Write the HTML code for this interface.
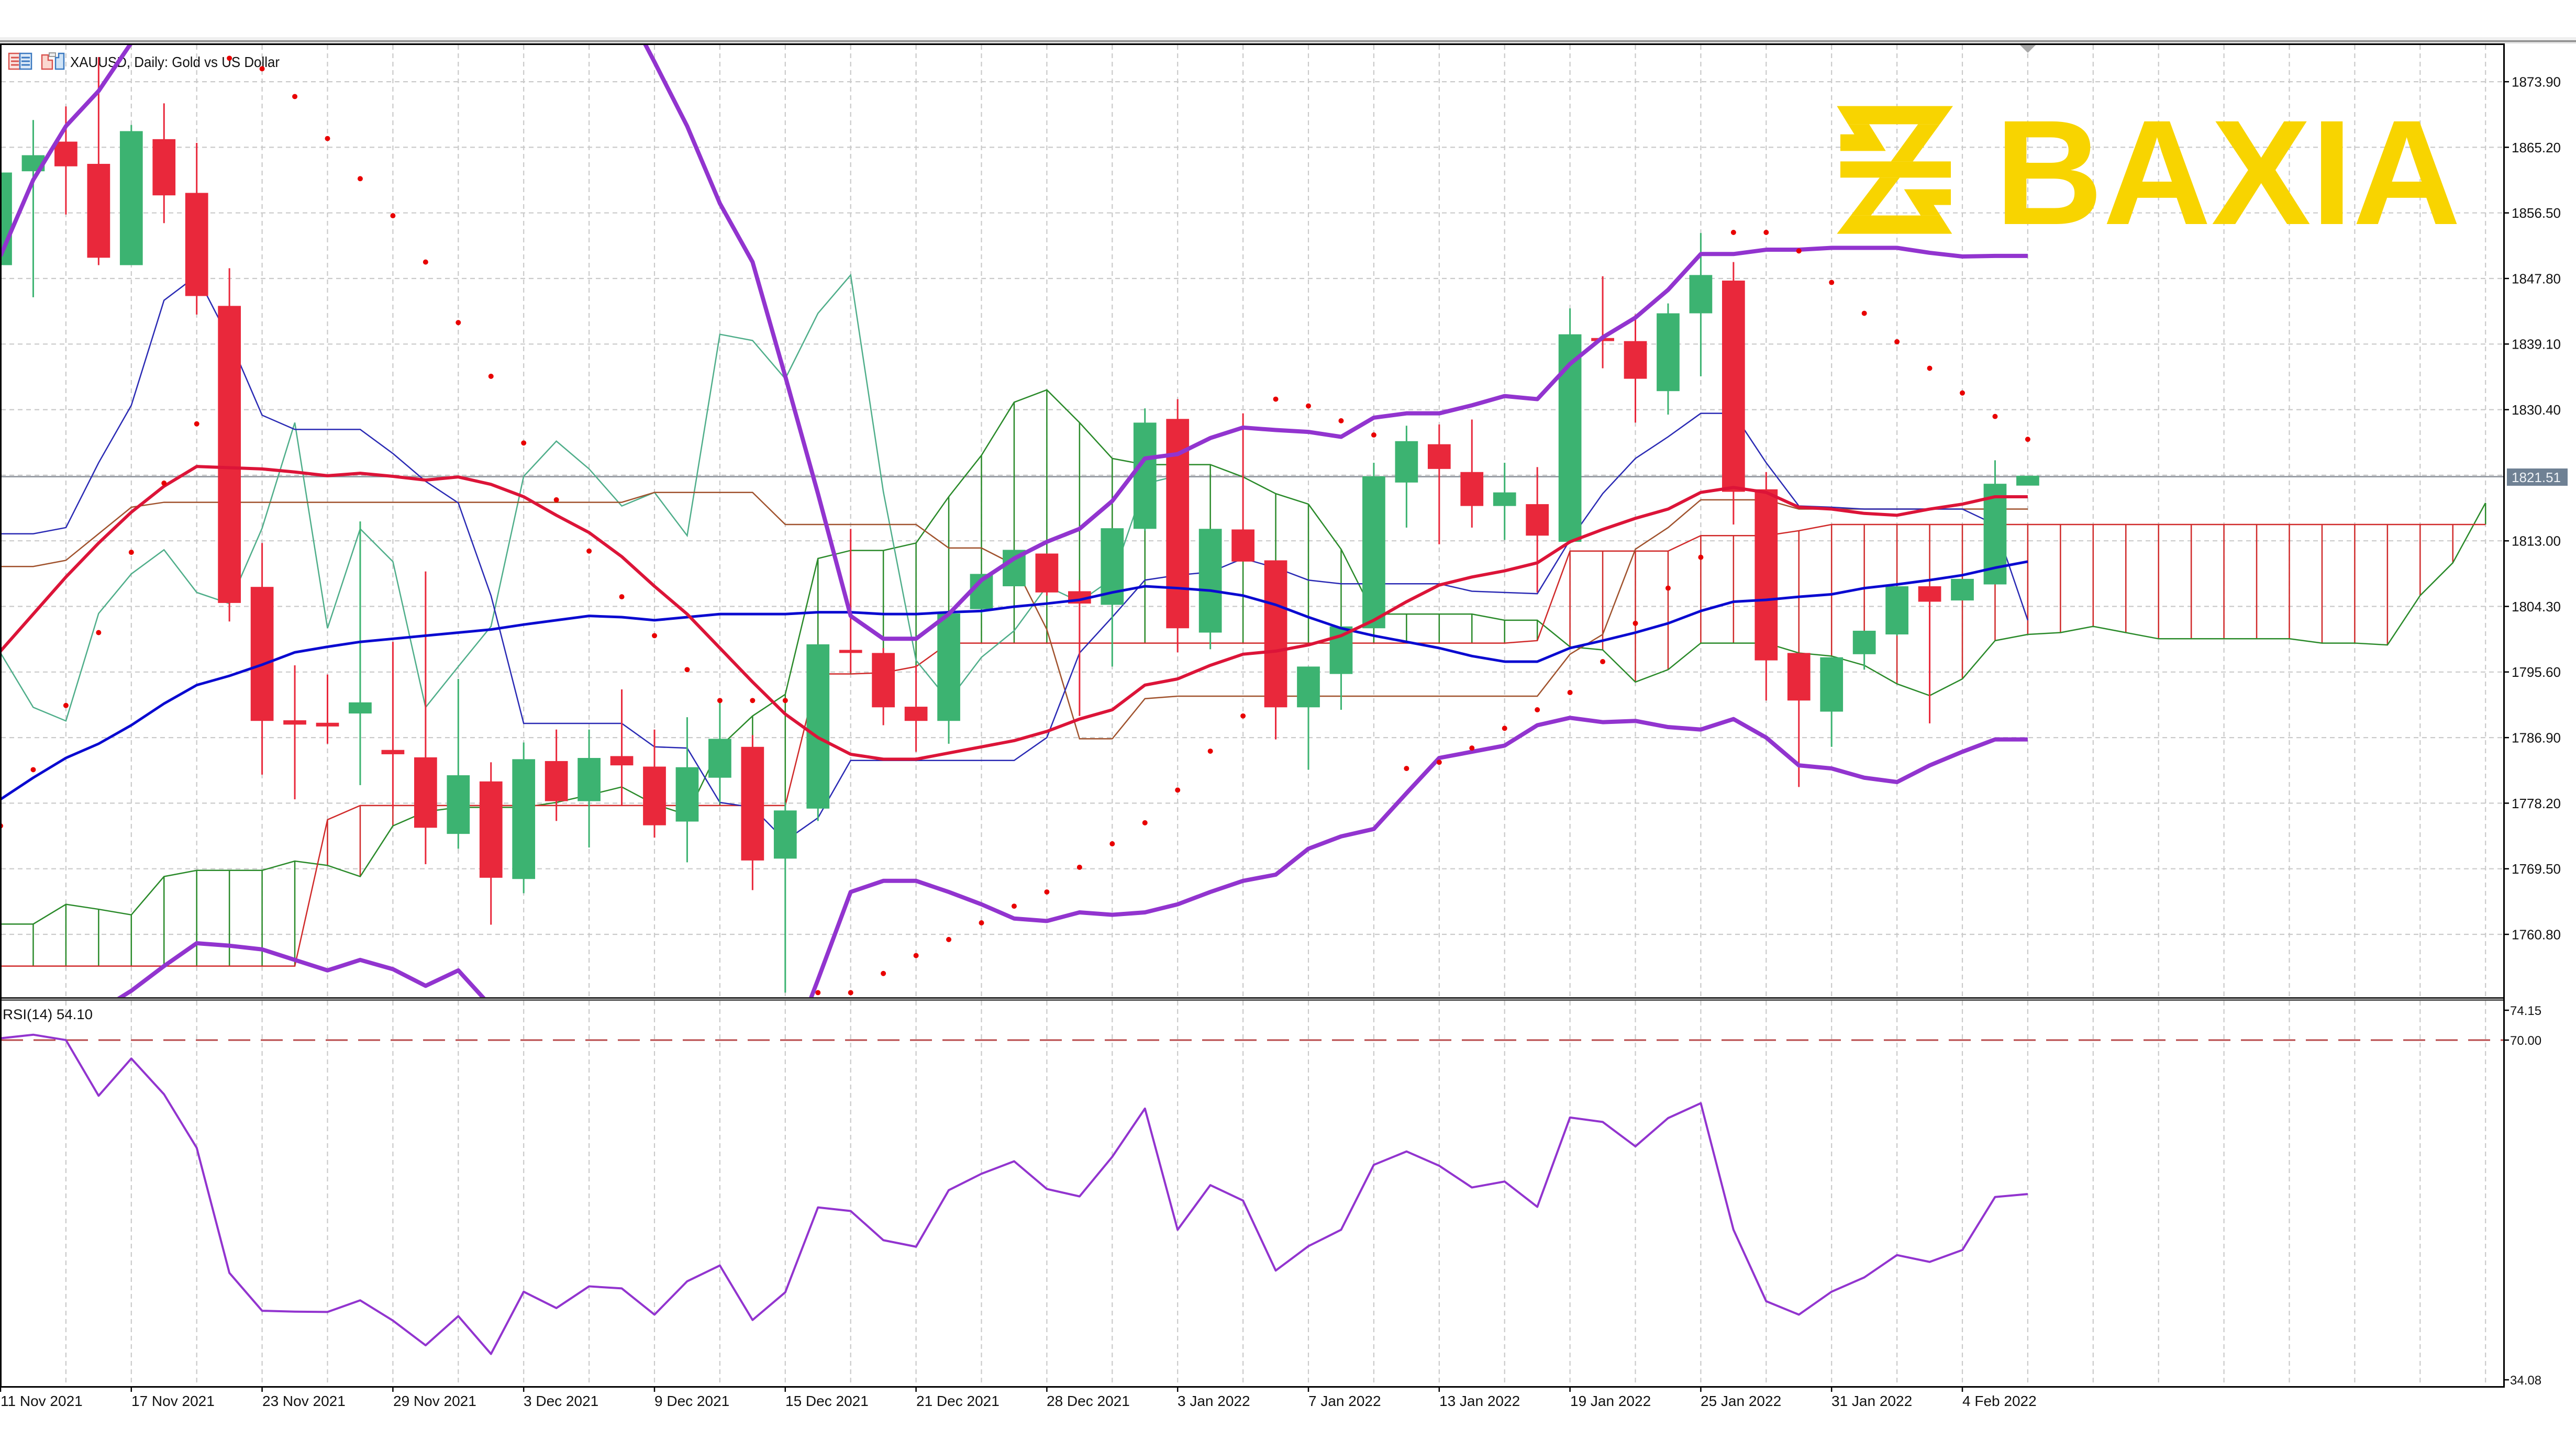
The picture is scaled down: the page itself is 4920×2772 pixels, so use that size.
<!DOCTYPE html>
<html>
<head>
<meta charset="utf-8">
<style>
html,body{margin:0;padding:0;background:#fff;overflow:hidden;}
svg{display:block;}
text{font-family:"Liberation Sans",sans-serif;}
</style>
</head>
<body>
<svg xmlns="http://www.w3.org/2000/svg" width="4920" height="2772" viewBox="0 0 4920 2772">
<defs>
<clipPath id="cp"><rect x="2" y="86" width="4780" height="1819"/></clipPath>
<clipPath id="cr"><rect x="2" y="1912" width="4780" height="736"/></clipPath>
</defs>
<rect x="0" y="0" width="4920" height="2772" fill="#ffffff"/>
<!-- top frame -->
<rect x="0" y="71" width="4920" height="6" fill="#efefef"/>
<rect x="0" y="77" width="4920" height="3" fill="#8a8a8a"/>
<rect x="0" y="80" width="4920" height="3" fill="#dcdcdc"/>
<rect x="0" y="83" width="4784" height="3" fill="#000"/>

<!-- MAIN PANE -->
<g clip-path="url(#cp)">
  <!-- grid -->
  <path fill="none" stroke="#cacaca" stroke-width="2.2" stroke-dasharray="9 7" d="M125.9,86V1905M250.8,86V1905M375.7,86V1905M500.6,86V1905M625.5,86V1905M750.4,86V1905M875.3,86V1905M1000.2,86V1905M1125.1,86V1905M1250,86V1905M1374.9,86V1905M1499.8,86V1905M1624.7,86V1905M1749.6,86V1905M1874.5,86V1905M1999.4,86V1905M2124.3,86V1905M2249.2,86V1905M2374.1,86V1905M2499,86V1905M2623.9,86V1905M2748.8,86V1905M2873.7,86V1905M2998.6,86V1905M3123.5,86V1905M3248.4,86V1905M3373.3,86V1905M3498.2,86V1905M3623.1,86V1905M3748,86V1905M3872.9,86V1905M3997.8,86V1905M4122.7,86V1905M4247.6,86V1905M4372.5,86V1905M4497.4,86V1905M4622.3,86V1905M4747.2,86V1905"/>
  <path fill="none" stroke="#cacaca" stroke-width="2.2" stroke-dasharray="9 7" d="M2,156.1H4782M2,281.4H4782M2,406.7H4782M2,532H4782M2,657.3H4782M2,782.6H4782M2,907.9H4782M2,1033.2H4782M2,1158.5H4782M2,1283.8H4782M2,1409.1H4782M2,1534.4H4782M2,1659.7H4782M2,1785H4782"/>

  <!-- logo -->
  <g transform="translate(3480,180) scale(0.33333)" fill="#f8d400">
    <polygon points="85,68 750,68 675,172 149,172"/>
    <polygon points="550,172 675,172 520,385 395,385"/>
    <polygon points="149,172 270,172 365,325 105,325 105,230 185,230"/>
    <polygon points="105,385 738,385 738,478 105,478"/>
    <polygon points="330,478 445,478 280,695 165,695"/>
    <polygon points="165,695 678,695 745,800 85,800"/>
    <polygon points="470,545 738,545 738,635 640,635 678,695 565,695"/>
  </g>
  <text x="3810" y="428" font-size="285" font-weight="bold" fill="#f8d400" textLength="890" lengthAdjust="spacingAndGlyphs">BAXIA</text>

  <!-- current price line -->
  <line x1="2" y1="910.6" x2="4782" y2="910.6" stroke="#8a9099" stroke-width="2.5"/>

  <!-- header -->
  <g>
    <rect x="17" y="102" width="21" height="30" fill="#fbe4e0" stroke="#d9534f" stroke-width="2.5"/>
    <rect x="38" y="102" width="22" height="30" fill="#dceaf8" stroke="#3a78c0" stroke-width="2.5"/>
    <path d="M21,110H36M21,117H36M21,124H36" stroke="#d9534f" stroke-width="3"/>
    <path d="M41,110H57M41,117H57M41,124H57" stroke="#3a78c0" stroke-width="3"/>
    <path d="M80,105H92V115H100V132H80Z" fill="#fbd8d0" stroke="#d9534f" stroke-width="2.5"/>
    <rect x="94" y="101" width="12" height="7" fill="#eee" stroke="#999" stroke-width="2"/>
    <path d="M106,110H112V102H122V132H106Z" fill="#cfe3f7" stroke="#3a78c0" stroke-width="2.5"/>
    <text x="134" y="128" font-size="28" fill="#111" textLength="400" lengthAdjust="spacingAndGlyphs">XAUUSD, Daily:  Gold vs US Dollar</text>
  </g>

  <!-- data group: x = bar index, y = zoom units -->
  <g transform="matrix(62.45,0,0,1.1798,1,70)">
    <!-- cloud hatches -->
    <path vector-effect="non-scaling-stroke" fill="none" stroke="#2a8a2a" stroke-width="2.5" d="M0,1437V1505M1,1437V1505M2,1405V1505M3,1413V1505M4,1422V1505M5,1360V1505M6,1350V1505M7,1350V1505M8,1350V1505M9,1335V1505M17,1240V1245M18,1228V1245M19,1215V1245M22,1150V1245M23,1100V1245M24,1065V1245M25,845V1032M26,832V1032M27,832V1030M28,820V1020M29,745V982M30,678V982M31,592V982M32,572V982M33,625V982M34,683V982M35,693V982M36,693V982M37,693V982M38,713V982M39,740V982M40,757V982M41,830V982M42,935V982M43,935V982M44,935V982M45,935V982M46,945V982M47,945V978M76,755V790"/>
    <path vector-effect="non-scaling-stroke" fill="none" stroke="#d02a2a" stroke-width="2.5" d="M10,1268V1342M11,1245V1360M12,1245V1278M13,1245V1255M14,1245V1248M15,1245V1248M16,1245V1248M21,1245V1260M48,833V988M49,833V993M50,833V1045M51,833V1025M52,808V982M53,808V982M54,808V982M55,800V998M56,790V1003M57,790V1018M58,790V1048M59,790V1067M60,790V1040M61,790V978M62,790V968M63,790V965M64,790V955M65,790V965M66,790V975M67,790V975M68,790V975M69,790V975M70,790V975M71,790V982M72,790V982M73,790V985M74,790V905M75,790V852"/>
    <!-- span A -->
    <polyline vector-effect="non-scaling-stroke" fill="none" stroke="#2a8a2a" stroke-width="2.5" points="0,1437 1,1437 2,1405 3,1413 4,1422 5,1360 6,1350 7,1350 8,1350 9,1335 10,1342 11,1360 12,1278 13,1255 14,1248 15,1248 16,1248 17,1240 18,1228 19,1215 20,1243 21,1260 22,1150 23,1100 24,1065 25,845 26,832 27,832 28,820 29,745 30,678 31,592 32,572 33,625 34,683 35,693 36,693 37,693 38,713 39,740 40,757 41,830 42,935 43,935 44,935 45,935 46,945 47,945 48,988 49,993 50,1045 51,1025 52,982 53,982 54,982 55,998 56,1003 57,1018 58,1048 59,1067 60,1040 61,978 62,968 63,965 64,955 65,965 66,975 67,975 68,975 69,975 70,975 71,982 72,982 73,985 74,905 75,852 76,755"/>
    <!-- span B -->
    <polyline vector-effect="non-scaling-stroke" fill="none" stroke="#d02a2a" stroke-width="2.5" points="0,1505 9,1505 10,1268 11,1245 24,1245 25,1032 26,1032 27,1030 28,1020 29,982 46,982 47,978 48,833 51,833 52,808 54,808 55,800 56,790 76,790"/>
    <!-- chikou -->
    <polyline vector-effect="non-scaling-stroke" fill="none" stroke="#4fae8a" stroke-width="2.5" points="0,998 1,1086 2,1108 3,934 4,870 5,831 6,900 7,918 8,796 9,625 10,958 11,797 12,850 13,1086 14,1020 15,955 16,712 17,655 18,700 19,760 20,738 21,808 22,482 23,492 24,554 25,448 26,386 27,737 28,1010 29,1075 30,1005 31,962 32,890 33,915 34,878 35,724 36,711"/>
    <!-- kijun -->
    <polyline vector-effect="non-scaling-stroke" fill="none" stroke="#a0522d" stroke-width="2.5" points="0,858 1,858 2,848 3,805 4,762 5,754 19,754 20,738 23,738 24,790 28,790 29,828 30,828 31,855 32,960 33,1137 34,1137 35,1072 36,1068 47,1068 48,1000 49,968 50,830 51,795 52,750 54,750 55,765 62,765"/>
    <!-- tenkan -->
    <polyline vector-effect="non-scaling-stroke" fill="none" stroke="#2a2ab4" stroke-width="2.5" points="0,805 1,805 2,795 3,690 4,597 5,427 6,387 7,490 8,613 9,636 10,636 11,636 12,675 13,720 14,755 15,905 16,1112 17,1112 18,1112 19,1112 20,1150 21,1152 22,1240 23,1248 24,1302 25,1265 26,1172 27,1172 28,1172 29,1172 30,1172 31,1172 32,1135 33,998 34,940 35,880 36,872 37,867 38,845 39,860 40,880 41,886 42,886 43,886 44,886 45,898 46,900 47,902 48,815 49,740 50,683 51,648 52,610 53,610 54,690 55,760 56,762 57,765 58,765 59,765 60,765 61,790 62,945"/>

    <!-- green candles -->
    <g fill="#3cb371">
      <rect x="-0.35" y="220" width="0.7" height="150"/>
      <rect x="0.976" y="135" width="0.048" height="287"/><rect x="0.65" y="192" width="0.7" height="26"/>
      <rect x="3.976" y="143" width="0.048" height="227"/><rect x="3.65" y="153" width="0.7" height="217"/>
      <rect x="10.976" y="785" width="0.048" height="427"/><rect x="10.65" y="1078" width="0.7" height="18"/>
      <rect x="13.976" y="1040" width="0.048" height="275"/><rect x="13.65" y="1196" width="0.7" height="95"/>
      <rect x="15.976" y="1143" width="0.048" height="244"/><rect x="15.65" y="1170" width="0.7" height="194"/>
      <rect x="17.976" y="1122" width="0.048" height="191"/><rect x="17.65" y="1168" width="0.7" height="70"/>
      <rect x="20.976" y="1102" width="0.048" height="235"/><rect x="20.65" y="1183" width="0.7" height="88"/>
      <rect x="21.976" y="1075" width="0.048" height="165"/><rect x="21.65" y="1137" width="0.7" height="63"/>
      <rect x="23.976" y="1240" width="0.048" height="308"/><rect x="23.65" y="1253" width="0.7" height="78"/>
      <rect x="24.976" y="984" width="0.048" height="286"/><rect x="24.65" y="984" width="0.7" height="266"/>
      <rect x="28.976" y="934" width="0.048" height="211"/><rect x="28.65" y="934" width="0.7" height="174"/>
      <rect x="29.976" y="870" width="0.048" height="65"/><rect x="29.65" y="870" width="0.7" height="57"/>
      <rect x="30.65" y="831" width="0.7" height="59"/>
      <rect x="33.976" y="796" width="0.048" height="224"/><rect x="33.65" y="796" width="0.7" height="124"/>
      <rect x="34.976" y="602" width="0.048" height="198"/><rect x="34.65" y="625" width="0.7" height="172"/>
      <rect x="36.976" y="797" width="0.048" height="195"/><rect x="36.65" y="797" width="0.7" height="168"/>
      <rect x="39.976" y="1020" width="0.048" height="167"/><rect x="39.65" y="1020" width="0.7" height="66"/>
      <rect x="40.976" y="955" width="0.048" height="135"/><rect x="40.65" y="955" width="0.7" height="77"/>
      <rect x="41.976" y="690" width="0.048" height="268"/><rect x="41.65" y="712" width="0.7" height="246"/>
      <rect x="42.976" y="630" width="0.048" height="165"/><rect x="42.65" y="655" width="0.7" height="67"/>
      <rect x="45.976" y="690" width="0.048" height="125"/><rect x="45.65" y="738" width="0.7" height="22"/>
      <rect x="47.976" y="440" width="0.048" height="378"/><rect x="47.65" y="482" width="0.7" height="336"/>
      <rect x="50.976" y="432" width="0.048" height="180"/><rect x="50.65" y="448" width="0.7" height="126"/>
      <rect x="51.976" y="318" width="0.048" height="232"/><rect x="51.65" y="386" width="0.7" height="62"/>
      <rect x="55.976" y="1005" width="0.048" height="145"/><rect x="55.65" y="1005" width="0.7" height="88"/>
      <rect x="56.976" y="962" width="0.048" height="63"/><rect x="56.65" y="962" width="0.7" height="38"/>
      <rect x="57.976" y="890" width="0.048" height="80"/><rect x="57.65" y="890" width="0.7" height="78"/>
      <rect x="59.65" y="878" width="0.7" height="35"/>
      <rect x="60.976" y="686" width="0.048" height="201"/><rect x="60.65" y="724" width="0.7" height="163"/>
      <rect x="61.65" y="711" width="0.7" height="16"/>
    </g>
    <!-- red candles -->
    <g fill="#e9283b">
      <rect x="1.976" y="113" width="0.048" height="175"/><rect x="1.65" y="170" width="0.7" height="40"/>
      <rect x="2.976" y="33" width="0.048" height="337"/><rect x="2.65" y="206" width="0.7" height="152"/>
      <rect x="4.976" y="108" width="0.048" height="194"/><rect x="4.65" y="166" width="0.7" height="91"/>
      <rect x="5.976" y="172" width="0.048" height="278"/><rect x="5.65" y="253" width="0.7" height="167"/>
      <rect x="6.976" y="375" width="0.048" height="572"/><rect x="6.65" y="436" width="0.7" height="481"/>
      <rect x="7.976" y="820" width="0.048" height="375"/><rect x="7.65" y="891" width="0.7" height="217"/>
      <rect x="8.976" y="1018" width="0.048" height="217"/><rect x="8.65" y="1107" width="0.7" height="7"/>
      <rect x="9.976" y="1033" width="0.048" height="112"/><rect x="9.65" y="1111" width="0.7" height="6"/>
      <rect x="11.976" y="980" width="0.048" height="270"/><rect x="11.65" y="1155" width="0.7" height="7"/>
      <rect x="12.976" y="866" width="0.048" height="474"/><rect x="12.65" y="1167" width="0.7" height="114"/>
      <rect x="14.976" y="1175" width="0.048" height="263"/><rect x="14.65" y="1206" width="0.7" height="156"/>
      <rect x="16.976" y="1122" width="0.048" height="148"/><rect x="16.65" y="1173" width="0.7" height="65"/>
      <rect x="18.976" y="1057" width="0.048" height="188"/><rect x="18.65" y="1165" width="0.7" height="15"/>
      <rect x="19.976" y="1122" width="0.048" height="175"/><rect x="19.65" y="1182" width="0.7" height="95"/>
      <rect x="22.976" y="1131" width="0.048" height="251"/><rect x="22.65" y="1150" width="0.7" height="184"/>
      <rect x="25.976" y="797" width="0.048" height="233"/><rect x="25.65" y="993" width="0.7" height="5"/>
      <rect x="26.976" y="990" width="0.048" height="125"/><rect x="26.65" y="998" width="0.7" height="88"/>
      <rect x="27.976" y="1018" width="0.048" height="140"/><rect x="27.65" y="1085" width="0.7" height="23"/>
      <rect x="31.976" y="837" width="0.048" height="68"/><rect x="31.65" y="837" width="0.7" height="63"/>
      <rect x="32.976" y="880" width="0.048" height="220"/><rect x="32.65" y="898" width="0.7" height="20"/>
      <rect x="35.976" y="587" width="0.048" height="410"/><rect x="35.65" y="619" width="0.7" height="339"/>
      <rect x="37.976" y="610" width="0.048" height="240"/><rect x="37.65" y="798" width="0.7" height="52"/>
      <rect x="38.976" y="848" width="0.048" height="290"/><rect x="38.65" y="848" width="0.7" height="238"/>
      <rect x="43.976" y="628" width="0.048" height="194"/><rect x="43.65" y="660" width="0.7" height="40"/>
      <rect x="44.976" y="620" width="0.048" height="175"/><rect x="44.65" y="705" width="0.7" height="55"/>
      <rect x="46.976" y="697" width="0.048" height="203"/><rect x="46.65" y="757" width="0.7" height="51"/>
      <rect x="48.976" y="388" width="0.048" height="149"/><rect x="48.65" y="488" width="0.7" height="5"/>
      <rect x="49.976" y="450" width="0.048" height="175"/><rect x="49.65" y="493" width="0.7" height="61"/>
      <rect x="52.976" y="365" width="0.048" height="425"/><rect x="52.65" y="395" width="0.7" height="342"/>
      <rect x="53.976" y="705" width="0.048" height="370"/><rect x="53.65" y="733" width="0.7" height="277"/>
      <rect x="54.976" y="998" width="0.048" height="217"/><rect x="54.65" y="998" width="0.7" height="77"/>
      <rect x="58.976" y="890" width="0.048" height="222"/><rect x="58.65" y="890" width="0.7" height="25"/>
    </g>

    <!-- blue MA -->
    <polyline vector-effect="non-scaling-stroke" fill="none" stroke="#0a0ad0" stroke-width="5" stroke-linejoin="round" points="0,1235 1,1200 2,1168 3,1145 4,1115 5,1080 6,1050 7,1035 8,1017 9,997 10,988 11,980 12,975 13,970 14,965 15,960 16,952 17,945 18,938 19,940 20,945 21,940 22,935 23,935 24,935 25,932 26,932 27,935 28,935 29,932 30,930 31,923 32,918 33,912 34,900 35,890 36,893 37,897 38,905 39,920 40,940 41,958 42,970 43,980 44,990 45,1003 46,1012 47,1012 48,990 49,978 50,965 51,950 52,930 53,915 54,912 55,907 56,903 57,893 58,887 59,880 60,872 61,860 62,850"/>
    <!-- red MA -->
    <polyline vector-effect="non-scaling-stroke" fill="none" stroke="#dc1438" stroke-width="6" stroke-linejoin="round" points="0,995 1,935 2,875 3,820 4,770 5,728 6,696 7,698 8,700 9,705 10,711 11,707 12,712 13,718 14,713 15,725 16,745 17,775 18,803 19,842 20,890 21,935 22,990 23,1045 24,1097 25,1135 26,1162 27,1170 28,1170 29,1160 30,1150 31,1140 32,1125 33,1105 34,1090 35,1050 36,1040 37,1018 38,1000 39,995 40,985 41,970 42,945 43,915 44,888 45,875 46,865 47,852 48,818 49,798 50,780 51,765 52,738 53,730 54,738 55,762 56,765 57,772 58,775 59,765 60,757 61,745 62,745"/>
    <!-- Bollinger upper / lower -->
    <polyline vector-effect="non-scaling-stroke" fill="none" stroke="#9234cf" stroke-width="8" stroke-linejoin="round" points="0,355 1,232 2,145 3,88 4,10 5,-70 6,-200 18,-200 19,-60 20,41 21,145 22,270 23,365 24,550 25,740 26,938 27,975 28,975 29,935 30,880 31,845 32,818 33,797 34,752 35,683 36,676 37,650 38,633 39,637 40,640 41,648 42,617 43,610 44,610 45,597 46,582 47,587 48,530 49,487 50,455 51,410 52,352 53,352 54,345 55,345 56,342 57,342 58,342 59,350 60,356 61,355 62,355"/>
    <polyline vector-effect="non-scaling-stroke" fill="none" stroke="#9234cf" stroke-width="8" stroke-linejoin="round" points="0,1700 1,1660 2,1620 3,1578 4,1545 5,1505 6,1468 7,1472 8,1478 9,1495 10,1512 11,1495 12,1510 13,1537 14,1512 15,1570 16,1640 17,1700 23,1750 24,1666 25,1527 26,1385 27,1367 28,1367 29,1385 30,1405 31,1428 32,1432 33,1418 34,1422 35,1418 36,1405 37,1385 38,1367 39,1357 40,1315 41,1295 42,1283 43,1225 44,1168 45,1158 46,1148 47,1115 48,1103 49,1110 50,1108 51,1118 52,1122 53,1105 54,1135 55,1180 56,1185 57,1200 58,1207 59,1180 60,1158 61,1138 62,1138"/>

    <!-- Parabolic SAR -->
    <g fill="#e80000">
      <ellipse cx="0" cy="1278" rx="0.08" ry="4.2"/><ellipse cx="1" cy="1187" rx="0.08" ry="4.2"/><ellipse cx="2" cy="1083" rx="0.08" ry="4.2"/><ellipse cx="3" cy="965" rx="0.08" ry="4.2"/><ellipse cx="4" cy="835" rx="0.08" ry="4.2"/><ellipse cx="5" cy="723" rx="0.08" ry="4.2"/><ellipse cx="6" cy="627" rx="0.08" ry="4.2"/><ellipse cx="7" cy="35" rx="0.08" ry="4.2"/><ellipse cx="8" cy="52" rx="0.08" ry="4.2"/><ellipse cx="9" cy="97" rx="0.08" ry="4.2"/><ellipse cx="10" cy="165" rx="0.08" ry="4.2"/><ellipse cx="11" cy="230" rx="0.08" ry="4.2"/><ellipse cx="12" cy="290" rx="0.08" ry="4.2"/><ellipse cx="13" cy="365" rx="0.08" ry="4.2"/><ellipse cx="14" cy="463" rx="0.08" ry="4.2"/><ellipse cx="15" cy="550" rx="0.08" ry="4.2"/><ellipse cx="16" cy="658" rx="0.08" ry="4.2"/><ellipse cx="17" cy="750" rx="0.08" ry="4.2"/><ellipse cx="18" cy="833" rx="0.08" ry="4.2"/><ellipse cx="19" cy="907" rx="0.08" ry="4.2"/><ellipse cx="20" cy="970" rx="0.08" ry="4.2"/><ellipse cx="21" cy="1025" rx="0.08" ry="4.2"/><ellipse cx="22" cy="1075" rx="0.08" ry="4.2"/><ellipse cx="23" cy="1075" rx="0.08" ry="4.2"/><ellipse cx="24" cy="1075" rx="0.08" ry="4.2"/><ellipse cx="25" cy="1548" rx="0.08" ry="4.2"/><ellipse cx="26" cy="1548" rx="0.08" ry="4.2"/><ellipse cx="27" cy="1517" rx="0.08" ry="4.2"/><ellipse cx="28" cy="1488" rx="0.08" ry="4.2"/><ellipse cx="29" cy="1462" rx="0.08" ry="4.2"/><ellipse cx="30" cy="1435" rx="0.08" ry="4.2"/><ellipse cx="31" cy="1408" rx="0.08" ry="4.2"/><ellipse cx="32" cy="1385" rx="0.08" ry="4.2"/><ellipse cx="33" cy="1345" rx="0.08" ry="4.2"/><ellipse cx="34" cy="1307" rx="0.08" ry="4.2"/><ellipse cx="35" cy="1273" rx="0.08" ry="4.2"/><ellipse cx="36" cy="1220" rx="0.08" ry="4.2"/><ellipse cx="37" cy="1157" rx="0.08" ry="4.2"/><ellipse cx="38" cy="1100" rx="0.08" ry="4.2"/><ellipse cx="39" cy="587" rx="0.08" ry="4.2"/><ellipse cx="40" cy="598" rx="0.08" ry="4.2"/><ellipse cx="41" cy="622" rx="0.08" ry="4.2"/><ellipse cx="42" cy="645" rx="0.08" ry="4.2"/><ellipse cx="43" cy="1185" rx="0.08" ry="4.2"/><ellipse cx="44" cy="1175" rx="0.08" ry="4.2"/><ellipse cx="45" cy="1152" rx="0.08" ry="4.2"/><ellipse cx="46" cy="1120" rx="0.08" ry="4.2"/><ellipse cx="47" cy="1090" rx="0.08" ry="4.2"/><ellipse cx="48" cy="1062" rx="0.08" ry="4.2"/><ellipse cx="49" cy="1012" rx="0.08" ry="4.2"/><ellipse cx="50" cy="950" rx="0.08" ry="4.2"/><ellipse cx="51" cy="893" rx="0.08" ry="4.2"/><ellipse cx="52" cy="843" rx="0.08" ry="4.2"/><ellipse cx="53" cy="317" rx="0.08" ry="4.2"/><ellipse cx="54" cy="317" rx="0.08" ry="4.2"/><ellipse cx="55" cy="347" rx="0.08" ry="4.2"/><ellipse cx="56" cy="398" rx="0.08" ry="4.2"/><ellipse cx="57" cy="448" rx="0.08" ry="4.2"/><ellipse cx="58" cy="494" rx="0.08" ry="4.2"/><ellipse cx="59" cy="537" rx="0.08" ry="4.2"/><ellipse cx="60" cy="577" rx="0.08" ry="4.2"/><ellipse cx="61" cy="615" rx="0.08" ry="4.2"/><ellipse cx="62" cy="652" rx="0.08" ry="4.2"/>
    </g>
  </g>
  <!-- current bar marker -->
  <polygon points="3858,86 3888,86 3873,101" fill="#a8a8a8"/>
</g>

<!-- pane separator -->
<rect x="0" y="1905" width="4784" height="3" fill="#222"/>
<rect x="0" y="1909" width="4784" height="3" fill="#555"/>

<!-- RSI PANE -->
<g clip-path="url(#cr)">
  <path fill="none" stroke="#cacaca" stroke-width="2.2" stroke-dasharray="9 7" d="M125.9,1912V2648M250.8,1912V2648M375.7,1912V2648M500.6,1912V2648M625.5,1912V2648M750.4,1912V2648M875.3,1912V2648M1000.2,1912V2648M1125.1,1912V2648M1250,1912V2648M1374.9,1912V2648M1499.8,1912V2648M1624.7,1912V2648M1749.6,1912V2648M1874.5,1912V2648M1999.4,1912V2648M2124.3,1912V2648M2249.2,1912V2648M2374.1,1912V2648M2499,1912V2648M2623.9,1912V2648M2748.8,1912V2648M2873.7,1912V2648M2998.6,1912V2648M3123.5,1912V2648M3248.4,1912V2648M3373.3,1912V2648M3498.2,1912V2648M3623.1,1912V2648M3748,1912V2648M3872.9,1912V2648M3997.8,1912V2648M4122.7,1912V2648M4247.6,1912V2648M4372.5,1912V2648M4497.4,1912V2648M4622.3,1912V2648M4747.2,1912V2648"/>
  <line x1="2" y1="1987" x2="4782" y2="1987" stroke="#b8484a" stroke-width="3" stroke-dasharray="42 20"/>
  <g transform="matrix(62.45,0,0,0.5689,1,1880)">
    <polyline vector-effect="non-scaling-stroke" fill="none" stroke="#9234cf" stroke-width="4" stroke-linejoin="round" points="0,182 1,170 2,188 3,375 4,250 5,370 6,550 7,970 8,1097 9,1100 10,1101 11,1062 12,1130 13,1213 14,1115 15,1242 16,1033 17,1088 18,1015 19,1022 20,1110 21,998 22,945 23,1128 24,1035 25,750 26,762 27,860 28,882 29,692 30,637 31,595 32,688 33,713 34,580 35,418 36,825 37,675 38,727 39,962 40,880 41,825 42,607 43,562 44,610 45,683 46,663 47,748 48,448 49,463 50,545 51,450 52,400 53,825 54,1065 55,1110 56,1033 57,985 58,910 59,933 60,893 61,715 62,705"/>
  </g>
  <text x="5" y="1947" font-size="27" fill="#111" textLength="172" lengthAdjust="spacingAndGlyphs">RSI(14) 54.10</text>
</g>

<!-- frame lines -->
<rect x="0" y="83" width="3" height="2568" fill="#000"/>
<rect x="4781" y="83" width="3" height="2568" fill="#000"/>
<rect x="0" y="2648" width="4784" height="3" fill="#000"/>

<!-- price axis -->
<g font-size="26" fill="#111">
  <path stroke="#000" stroke-width="2.5" d="M4782,156.1h10M4782,281.4h10M4782,406.7h10M4782,532h10M4782,657.3h10M4782,782.6h10M4782,1033.2h10M4782,1158.5h10M4782,1283.8h10M4782,1409.1h10M4782,1534.4h10M4782,1659.7h10M4782,1785h10M4782,1930h10M4782,1987h10M4782,2636h10"/>
  <text x="4797" y="165.5">1873.90</text>
  <text x="4797" y="290.8">1865.20</text>
  <text x="4797" y="416.1">1856.50</text>
  <text x="4797" y="541.4">1847.80</text>
  <text x="4797" y="666.7">1839.10</text>
  <text x="4797" y="792">1830.40</text>
  <text x="4797" y="1042.6">1813.00</text>
  <text x="4797" y="1167.9">1804.30</text>
  <text x="4797" y="1293.2">1795.60</text>
  <text x="4797" y="1418.5">1786.90</text>
  <text x="4797" y="1543.8">1778.20</text>
  <text x="4797" y="1669.1">1769.50</text>
  <text x="4797" y="1794.4">1760.80</text>
  <rect x="4788" y="895" width="116" height="33" fill="#6f8194"/>
  <text x="4797" y="921" fill="#eef2f6">1821.51</text>
  <text x="4794" y="1939" font-size="24">74.15</text>
  <text x="4794" y="1996" font-size="24">70.00</text>
  <text x="4794" y="2645" font-size="24">34.08</text>
</g>

<!-- time axis -->
<path stroke="#000" stroke-width="2.5" d="M1,2650v9M250.8,2650v9M500.6,2650v9M750.4,2650v9M1000.2,2650v9M1250,2650v9M1499.8,2650v9M1749.6,2650v9M1999.4,2650v9M2249.2,2650v9M2499,2650v9M2748.8,2650v9M2998.6,2650v9M3248.4,2650v9M3498.2,2650v9M3748,2650v9"/>
<g font-size="28" fill="#111">
  <text x="1" y="2686">11 Nov 2021</text>
  <text x="251" y="2686">17 Nov 2021</text>
  <text x="501" y="2686">23 Nov 2021</text>
  <text x="751" y="2686">29 Nov 2021</text>
  <text x="1000" y="2686">3 Dec 2021</text>
  <text x="1250" y="2686">9 Dec 2021</text>
  <text x="1500" y="2686">15 Dec 2021</text>
  <text x="1750" y="2686">21 Dec 2021</text>
  <text x="1999" y="2686">28 Dec 2021</text>
  <text x="2249" y="2686">3 Jan 2022</text>
  <text x="2499" y="2686">7 Jan 2022</text>
  <text x="2749" y="2686">13 Jan 2022</text>
  <text x="2999" y="2686">19 Jan 2022</text>
  <text x="3248" y="2686">25 Jan 2022</text>
  <text x="3498" y="2686">31 Jan 2022</text>
  <text x="3748" y="2686">4 Feb 2022</text>
</g>
</svg>
</body>
</html>
